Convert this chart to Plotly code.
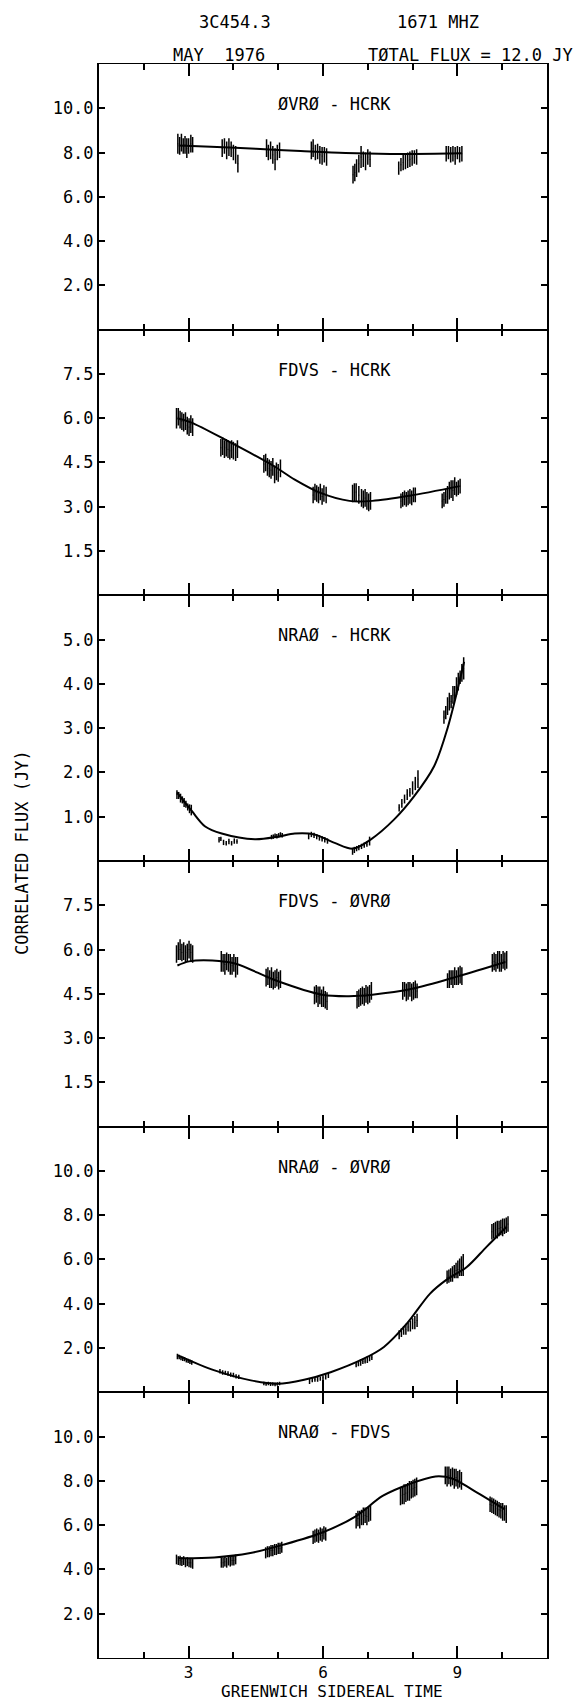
import plotly.graph_objects as go

# ---------------- data ----------------
panel_labels = ["ØVRØ - HCRK", "FDVS - HCRK", "NRAØ - HCRK",
                "FDVS - ØVRØ", "NRAØ - ØVRØ", "NRAØ - FDVS"]
y_ranges = [[0, 12], [0, 9], [0, 6], [0, 9], [0, 12], [0, 12]]
y_ticks = [[2, 4, 6, 8, 10], [1.5, 3, 4.5, 6, 7.5], [1, 2, 3, 4, 5],
           [1.5, 3, 4.5, 6, 7.5], [2, 4, 6, 8, 10], [2, 4, 6, 8, 10]]
x_range = [1, 11]
x_tick_labels = ["3", "6", "9"]
x_tick_vals = [3, 6, 9]
x_minor_vals = [1, 2, 4, 5, 7, 8, 10, 11]

# Panel 1: OVRO - HCRK
p1_x = [2.76, 2.80, 2.84, 2.88, 2.92, 2.96, 3.00, 3.05, 3.09,
        3.75, 3.80, 3.85, 3.90, 3.95, 4.00, 4.05, 4.10,
        4.74, 4.78, 4.83, 4.88, 4.93, 4.98, 5.03,
        5.74, 5.78, 5.83, 5.88, 5.93, 5.98, 6.03, 6.08,
        6.67, 6.71, 6.75, 6.80, 6.85, 6.90, 6.95, 7.00, 7.05,
        7.69, 7.74, 7.79, 7.84, 7.89, 7.94, 7.99, 8.04, 8.09,
        8.75, 8.80, 8.85, 8.90, 8.95, 9.00, 9.05, 9.10]
p1_y = [8.4, 8.3, 8.45, 8.3, 8.35, 8.2, 8.3, 8.4, 8.35,
        8.2, 8.3, 8.1, 8.25, 8.15, 8.0, 7.9, 7.5,
        8.2, 8.0, 8.1, 7.9, 7.7, 8.0, 8.1,
        8.1, 8.2, 8.0, 8.05, 7.9, 7.85, 7.9, 7.8,
        7.0, 7.1, 7.3, 7.5, 7.8, 7.7, 7.6, 7.8, 7.7,
        7.3, 7.45, 7.55, 7.6, 7.65, 7.7, 7.75, 7.8, 7.8,
        7.95, 8.0, 7.9, 7.95, 7.85, 8.0, 7.9, 7.95]
p1_err = [0.45, 0.4, 0.4, 0.35, 0.4, 0.45, 0.35, 0.4, 0.35,
          0.4, 0.35, 0.4, 0.4, 0.35, 0.35, 0.4, 0.4,
          0.4, 0.35, 0.4, 0.4, 0.5, 0.35, 0.35,
          0.4, 0.4, 0.35, 0.35, 0.4, 0.4, 0.35, 0.4,
          0.4, 0.4, 0.4, 0.4, 0.5, 0.35, 0.4, 0.35, 0.35,
          0.3, 0.3, 0.35, 0.35, 0.35, 0.35, 0.35, 0.3, 0.35,
          0.35, 0.3, 0.35, 0.35, 0.4, 0.3, 0.35, 0.35]
p1_curve_x = [2.78, 3.5, 4.5, 5.5, 6.5, 7.5, 8.5, 9.1]
p1_curve_y = [8.32, 8.26, 8.17, 8.07, 7.98, 7.94, 7.95, 7.97]

# Panel 2: FDVS - HCRK
p2_x = [2.73, 2.77, 2.81, 2.85, 2.89, 2.93, 2.97, 3.01, 3.05, 3.09,
        3.72, 3.76, 3.80, 3.84, 3.88, 3.92, 3.96, 4.00, 4.05, 4.09,
        4.68, 4.72, 4.76, 4.80, 4.84, 4.88, 4.92, 4.96, 5.00, 5.05,
        5.78, 5.82, 5.86, 5.90, 5.94, 5.98, 6.02, 6.07,
        6.66, 6.70, 6.74, 6.80, 6.86, 6.90, 6.94, 6.98, 7.02, 7.06,
        7.74, 7.78, 7.82, 7.86, 7.90, 7.94, 7.98, 8.02, 8.06,
        8.66, 8.70, 8.74, 8.78, 8.82, 8.86, 8.90, 8.94, 8.98, 9.02, 9.06]
p2_y = [6.0, 6.05, 5.95, 5.9, 5.85, 5.9, 5.75, 5.7, 5.8, 5.7,
        5.0, 5.05, 4.95, 5.0, 4.95, 4.9, 4.95, 4.9, 4.85, 4.95,
        4.45, 4.5, 4.35, 4.3, 4.25, 4.35, 4.1, 4.2, 4.15, 4.3,
        3.4, 3.5, 3.45, 3.4, 3.5, 3.35, 3.45, 3.4,
        3.45, 3.5, 3.5, 3.4, 3.3, 3.25, 3.3, 3.2, 3.15, 3.2,
        3.2, 3.25, 3.3, 3.25, 3.3, 3.35, 3.3, 3.4, 3.4,
        3.2, 3.25, 3.35, 3.4, 3.55, 3.6, 3.55, 3.7, 3.6, 3.65, 3.7]
p2_err = [0.35, 0.3, 0.3, 0.3, 0.3, 0.3, 0.3, 0.3, 0.3, 0.3,
          0.3, 0.3, 0.3, 0.3, 0.3, 0.3, 0.3, 0.3, 0.3, 0.3,
          0.3, 0.3, 0.3, 0.3, 0.3, 0.3, 0.3, 0.3, 0.3, 0.3,
          0.28, 0.28, 0.28, 0.28, 0.28, 0.28, 0.28, 0.28,
          0.3, 0.3, 0.3, 0.3, 0.3, 0.3, 0.3, 0.3, 0.3, 0.3,
          0.25, 0.25, 0.25, 0.25, 0.25, 0.25, 0.25, 0.25, 0.25,
          0.25, 0.25, 0.25, 0.3, 0.3, 0.3, 0.35, 0.3, 0.25, 0.25, 0.25]
p2_curve_x = [2.75, 3.05, 3.86, 4.89, 5.36, 5.93, 6.59, 7.1, 7.92, 9.05]
p2_curve_y = [6.0, 5.86, 5.24, 4.39, 3.93, 3.48, 3.2, 3.2, 3.37, 3.7]

# Panel 3: NRAO - HCRK
p3_x = [2.74, 2.78, 2.82, 2.86, 2.90, 2.94, 2.98, 3.02, 3.06,
        3.68, 3.72, 3.78, 3.84, 3.90, 3.96, 4.02, 4.08,
        4.85, 4.89, 4.93, 4.97, 5.01, 5.05, 5.09,
        5.68, 5.74, 5.80, 5.86, 5.92, 5.98, 6.04, 6.10,
        6.66, 6.70, 6.75, 6.80, 6.86, 6.92, 6.98, 7.04,
        7.70, 7.76, 7.82, 7.88, 7.94, 8.00, 8.06, 8.12,
        8.70, 8.74, 8.78, 8.82, 8.86, 8.90, 8.94, 8.98, 9.02, 9.06, 9.10, 9.14]
p3_y = [1.5, 1.48, 1.42, 1.38, 1.32, 1.28, 1.22, 1.18, 1.15,
        0.48, 0.5, 0.42, 0.4, 0.44, 0.4, 0.45, 0.44,
        0.54, 0.55, 0.57, 0.56, 0.58, 0.6, 0.58,
        0.55, 0.6, 0.58, 0.55, 0.52, 0.5, 0.48, 0.45,
        0.22, 0.25, 0.28, 0.3, 0.33, 0.36, 0.38, 0.45,
        1.2, 1.3, 1.4, 1.5, 1.55, 1.65, 1.75, 1.85,
        3.25, 3.35, 3.5, 3.6, 3.6, 3.75, 3.8, 3.95, 4.05, 4.15, 4.25, 4.35]
p3_err = [0.1, 0.08, 0.1, 0.08, 0.1, 0.08, 0.08, 0.1, 0.12,
          0.06, 0.05, 0.06, 0.05, 0.06, 0.05, 0.06, 0.05,
          0.05, 0.05, 0.05, 0.05, 0.05, 0.05, 0.05,
          0.06, 0.06, 0.06, 0.06, 0.06, 0.06, 0.06, 0.06,
          0.08, 0.07, 0.06, 0.06, 0.06, 0.06, 0.06, 0.1,
          0.08, 0.1, 0.1, 0.12, 0.1, 0.15, 0.15, 0.2,
          0.15, 0.15, 0.2, 0.2, 0.15, 0.2, 0.15, 0.2, 0.2, 0.15, 0.2, 0.25]
p3_curve_x = [2.74, 3.07, 3.37, 3.74, 4.48, 5.0, 5.37, 5.81, 6.26, 6.67,
              7.07, 7.59, 8.04, 8.48, 8.78, 9.15]
p3_curve_y = [1.55, 1.13, 0.78, 0.62, 0.49, 0.55, 0.62, 0.6, 0.41, 0.28,
              0.49, 0.94, 1.47, 2.14, 3.0, 4.5]

# Panel 4: FDVS - OVRO
p4_x = [2.73, 2.77, 2.81, 2.85, 2.89, 2.93, 2.97, 3.01, 3.05, 3.09,
        3.73, 3.77, 3.81, 3.85, 3.89, 3.93, 3.97, 4.01, 4.05, 4.09,
        4.73, 4.77, 4.81, 4.85, 4.89, 4.93, 4.97, 5.01, 5.05,
        5.81, 5.85, 5.89, 5.93, 5.97, 6.01, 6.05, 6.09,
        6.76, 6.80, 6.84, 6.88, 6.92, 6.96, 7.00, 7.04, 7.08,
        7.78, 7.82, 7.86, 7.90, 7.94, 7.98, 8.02, 8.06, 8.10,
        8.78, 8.82, 8.86, 8.90, 8.94, 8.98, 9.02, 9.06, 9.10,
        9.78, 9.82, 9.86, 9.90, 9.94, 9.98, 10.02, 10.06, 10.10]
p4_y = [5.85, 5.95, 6.0, 5.9, 5.95, 5.85, 5.9, 6.0, 5.9, 5.85,
        5.6, 5.55, 5.5, 5.6, 5.55, 5.5, 5.45, 5.55, 5.4, 5.45,
        5.05, 5.1, 5.0, 5.05, 4.95, 5.0, 5.05, 4.95, 5.0,
        4.45, 4.5, 4.4, 4.45, 4.35, 4.4, 4.3, 4.25,
        4.3, 4.35, 4.4, 4.45, 4.4, 4.5, 4.45, 4.5, 4.6,
        4.6, 4.65, 4.55, 4.6, 4.65, 4.55, 4.6, 4.65, 4.6,
        4.95, 5.0, 5.05, 5.0, 5.1, 5.05, 5.1, 5.15, 5.1,
        5.55, 5.6, 5.55, 5.65, 5.6, 5.55, 5.65, 5.6, 5.65]
p4_err = [0.3, 0.3, 0.35, 0.3, 0.3, 0.3, 0.3, 0.3, 0.3, 0.3,
          0.35, 0.3, 0.35, 0.3, 0.3, 0.35, 0.3, 0.3, 0.35, 0.3,
          0.3, 0.3, 0.3, 0.35, 0.3, 0.3, 0.3, 0.3, 0.3,
          0.3, 0.3, 0.35, 0.3, 0.3, 0.35, 0.3, 0.3,
          0.3, 0.3, 0.3, 0.3, 0.3, 0.3, 0.3, 0.3, 0.3,
          0.3, 0.25, 0.3, 0.3, 0.25, 0.3, 0.3, 0.3, 0.25,
          0.25, 0.3, 0.25, 0.3, 0.3, 0.25, 0.3, 0.3, 0.3,
          0.3, 0.3, 0.3, 0.3, 0.35, 0.3, 0.3, 0.3, 0.3]
p4_curve_x = [2.75, 3.01, 3.53, 4.05, 4.95, 5.98, 6.58, 7.1, 7.99, 9.03, 10.07]
p4_curve_y = [5.46, 5.6, 5.63, 5.52, 4.95, 4.47, 4.42, 4.47, 4.67, 5.1, 5.58]

# Panel 5: NRAO - OVRO
p5_x = [2.75, 2.79, 2.83, 2.87, 2.91, 2.95, 2.99, 3.03, 3.07,
        3.70, 3.76, 3.82, 3.88, 3.94, 4.00, 4.06, 4.12,
        4.68, 4.73, 4.78, 4.83, 4.88, 4.93, 4.98, 5.03,
        5.70, 5.76, 5.82, 5.88, 5.94, 6.00, 6.06, 6.12,
        6.74, 6.79, 6.84, 6.89, 6.94, 6.99, 7.04, 7.09,
        7.70, 7.75, 7.80, 7.85, 7.90, 7.95, 8.00, 8.05, 8.10,
        8.77, 8.81, 8.85, 8.89, 8.93, 8.97, 9.01, 9.05, 9.09, 9.13,
        9.77, 9.81, 9.85, 9.89, 9.93, 9.97, 10.01, 10.05, 10.09, 10.13]
p5_y = [1.62, 1.6, 1.55, 1.52, 1.5, 1.45, 1.42, 1.38, 1.35,
        0.95, 0.9, 0.88, 0.85, 0.8, 0.78, 0.72, 0.7,
        0.4, 0.38, 0.4, 0.37, 0.38, 0.36, 0.38, 0.4,
        0.5, 0.55, 0.58, 0.6, 0.62, 0.66, 0.7, 0.75,
        1.25, 1.3, 1.35, 1.4, 1.42, 1.48, 1.52, 1.58,
        2.6, 2.7, 2.8, 2.85, 2.95, 3.0, 3.1, 3.15, 3.25,
        5.2, 5.25, 5.3, 5.35, 5.45, 5.5, 5.55, 5.65, 5.7, 5.75,
        7.25, 7.3, 7.35, 7.35, 7.4, 7.45, 7.45, 7.5, 7.55, 7.6]
p5_err = [0.12, 0.1, 0.1, 0.1, 0.1, 0.1, 0.1, 0.1, 0.1,
          0.1, 0.1, 0.1, 0.1, 0.1, 0.1, 0.1, 0.1,
          0.08, 0.08, 0.08, 0.08, 0.08, 0.08, 0.08, 0.08,
          0.12, 0.1, 0.1, 0.12, 0.1, 0.1, 0.12, 0.1,
          0.12, 0.12, 0.15, 0.12, 0.12, 0.15, 0.12, 0.12,
          0.2, 0.2, 0.2, 0.25, 0.2, 0.25, 0.25, 0.3, 0.3,
          0.3, 0.3, 0.3, 0.35, 0.3, 0.35, 0.4, 0.4, 0.45, 0.5,
          0.35, 0.35, 0.35, 0.4, 0.35, 0.35, 0.4, 0.35, 0.35, 0.35]
p5_curve_x = [2.76, 3.58, 4.39, 4.99, 5.58, 6.17, 6.91, 7.36, 7.87, 8.39,
              8.76, 9.21, 9.65, 10.1]
p5_curve_y = [1.67, 0.99, 0.54, 0.39, 0.57, 0.91, 1.52, 2.05, 3.1, 4.46,
              5.09, 5.66, 6.57, 7.48]

# Panel 6: NRAO - FDVS
p6_x = [2.73, 2.77, 2.81, 2.85, 2.89, 2.93, 2.97, 3.01, 3.05, 3.09,
        3.73, 3.77, 3.81, 3.85, 3.89, 3.93, 3.97, 4.01, 4.05,
        4.72, 4.76, 4.80, 4.84, 4.88, 4.92, 4.96, 5.00, 5.04, 5.08,
        5.78, 5.82, 5.86, 5.90, 5.94, 5.98, 6.02, 6.06,
        6.74, 6.78, 6.82, 6.86, 6.90, 6.94, 6.98, 7.02, 7.06,
        7.73, 7.77, 7.81, 7.85, 7.89, 7.93, 7.97, 8.01, 8.05, 8.09,
        8.73, 8.77, 8.81, 8.85, 8.89, 8.93, 8.97, 9.01, 9.05, 9.09,
        9.73, 9.77, 9.81, 9.85, 9.89, 9.93, 9.97, 10.01, 10.05, 10.09]
p6_y = [4.45, 4.4, 4.4, 4.35, 4.4, 4.3, 4.35, 4.3, 4.3, 4.25,
        4.3, 4.3, 4.35, 4.3, 4.4, 4.35, 4.4, 4.4, 4.45,
        4.75, 4.8, 4.8, 4.85, 4.85, 4.9, 4.9, 4.95, 4.95, 5.0,
        5.45, 5.5, 5.55, 5.5, 5.6, 5.55, 5.65, 5.6,
        6.2, 6.3, 6.25, 6.35, 6.4, 6.45, 6.4, 6.5, 6.55,
        7.3, 7.35, 7.4, 7.45, 7.5, 7.55, 7.6, 7.65, 7.7, 7.75,
        8.25, 8.2, 8.25, 8.15, 8.2, 8.1, 8.15, 8.05, 8.1, 8.0,
        6.95, 6.9, 6.85, 6.8, 6.75, 6.7, 6.65, 6.6, 6.55, 6.5]
p6_err = [0.22, 0.2, 0.22, 0.2, 0.2, 0.2, 0.2, 0.2, 0.22, 0.22,
          0.22, 0.22, 0.22, 0.22, 0.22, 0.22, 0.22, 0.22, 0.22,
          0.25, 0.25, 0.25, 0.25, 0.25, 0.25, 0.25, 0.25, 0.25, 0.25,
          0.3, 0.3, 0.3, 0.3, 0.3, 0.3, 0.3, 0.3,
          0.35, 0.35, 0.4, 0.35, 0.4, 0.35, 0.4, 0.35, 0.35,
          0.4, 0.4, 0.45, 0.4, 0.4, 0.45, 0.4, 0.4, 0.4, 0.4,
          0.4, 0.45, 0.4, 0.4, 0.4, 0.45, 0.4, 0.4, 0.4, 0.4,
          0.35, 0.35, 0.35, 0.35, 0.35, 0.35, 0.35, 0.4, 0.35, 0.4]
p6_curve_x = [2.76, 3.57, 4.38, 5.12, 6.0, 6.74, 7.33, 7.92, 8.51, 8.88, 9.32, 10.06]
p6_curve_y = [4.51, 4.54, 4.74, 5.12, 5.68, 6.41, 7.32, 7.85, 8.2, 8.11, 7.62, 6.71]

panels = [
    (p1_x, p1_y, p1_err, p1_curve_x, p1_curve_y),
    (p2_x, p2_y, p2_err, p2_curve_x, p2_curve_y),
    (p3_x, p3_y, p3_err, p3_curve_x, p3_curve_y),
    (p4_x, p4_y, p4_err, p4_curve_x, p4_curve_y),
    (p5_x, p5_y, p5_err, p5_curve_x, p5_curve_y),
    (p6_x, p6_y, p6_err, p6_curve_x, p6_curve_y),
]

# ---------------- figure ----------------
FONT = "DejaVu Sans Mono"
INK = "#000000"
W, H = 581, 1701
OFF = 7  # page body margin of the browser
# target plot-area edges in window pixels
LEFT, RIGHT, TOP, BOTTOM = 98, 546, 63, 1657
ML, MT = LEFT - OFF, TOP - OFF
MR, MB = W - (RIGHT - OFF), H - (BOTTOM - OFF)
N = len(panels)

fig = go.Figure()
layout = dict(
    width=W, height=H, template="none",
    margin=dict(l=ML, r=MR, t=MT, b=MB, pad=0, autoexpand=False),
    paper_bgcolor="white", plot_bgcolor="white", showlegend=False,
)

for i, (bx, by, be, cx, cy) in enumerate(panels):
    k = "" if i == 0 else str(i + 1)
    xa, ya = "x" + k, "y" + k
    fig.add_trace(go.Scatter(
        x=bx, y=by, mode="markers", xaxis=xa, yaxis=ya,
        marker=dict(size=1, color=INK),
        error_y=dict(type="data", array=be, symmetric=True, width=0,
                     thickness=1.5, color=INK),
        showlegend=False, hoverinfo="skip"))
    fig.add_trace(go.Scatter(
        x=cx, y=cy, mode="lines", xaxis=xa, yaxis=ya,
        line=dict(color=INK, width=2, shape="spline", smoothing=0.9),
        showlegend=False, hoverinfo="skip"))

    top = 1 - i / N
    bot = 1 - (i + 1) / N
    layout["yaxis" + k] = dict(
        domain=[bot, top], anchor=xa, range=y_ranges[i],
        tickmode="array", tickvals=y_ticks[i], tickformat=".1f",
        ticks="inside", ticklen=6, tickwidth=1.6, tickcolor=INK,
        showline=True, linecolor=INK, linewidth=2, mirror="ticks",
        showgrid=False, zeroline=False, automargin=False,
        tickfont=dict(family=FONT, size=17, color=INK))
    layout["xaxis" + k] = dict(
        domain=[0, 1], anchor=ya, range=x_range,
        tickmode="array", tickvals=x_tick_vals, ticktext=x_tick_labels,
        ticks="inside", ticklen=12, tickwidth=1.8, tickcolor=INK,
        minor=dict(tickmode="array", tickvals=x_minor_vals, ticks="inside",
                   ticklen=6, tickwidth=1.6, tickcolor=INK, showgrid=False),
        showline=True, linecolor=INK, linewidth=1.1, mirror="ticks",
        showgrid=False, zeroline=False, automargin=False,
        showticklabels=(i == N - 1),
        tickfont=dict(family=FONT, size=16, color=INK))

    fig.add_annotation(x=6.25, y=1 - 40 / 265.7, xref=xa, yref=ya + " domain",
                       text=panel_labels[i], showarrow=False,
                       font=dict(family=FONT, size=17, color=INK),
                       xanchor="center", yanchor="middle")

PW = RIGHT - LEFT
PH = BOTTOM - TOP


def px_to_paper(xp, yp):
    # window pixel -> paper coordinates
    return (xp - LEFT) / PW, (BOTTOM - yp) / PH


header = [("3C454.3", 234, 21), ("1671 MHZ", 437, 21),
          ("MAY  1976", 218, 54), ("TØTAL FLUX = 12.0 JY", 469, 54)]
for txt, xp, yp in header:
    ax, ay = px_to_paper(xp, yp)
    fig.add_annotation(x=ax, y=ay, xref="paper", yref="paper", text=txt,
                       showarrow=False, xanchor="center", yanchor="middle",
                       font=dict(family=FONT, size=17, color=INK))

# x-axis title (placed as text just under the tick labels)
ax, ay = px_to_paper(331, 1690)
fig.add_annotation(x=ax, y=ay, xref="paper", yref="paper",
                   text="GREENWICH SIDEREAL TIME",
                   showarrow=False, xanchor="center", yanchor="middle",
                   font=dict(family=FONT, size=16, color=INK))

ax, ay = px_to_paper(21, 852)
fig.add_annotation(x=ax, y=ay, xref="paper", yref="paper",
                   text="CORRELATED FLUX (JY)", textangle=-90,
                   showarrow=False, xanchor="center", yanchor="middle",
                   font=dict(family=FONT, size=17, color=INK))

fig.update_layout(**layout)
fig.write_html("out.html")
